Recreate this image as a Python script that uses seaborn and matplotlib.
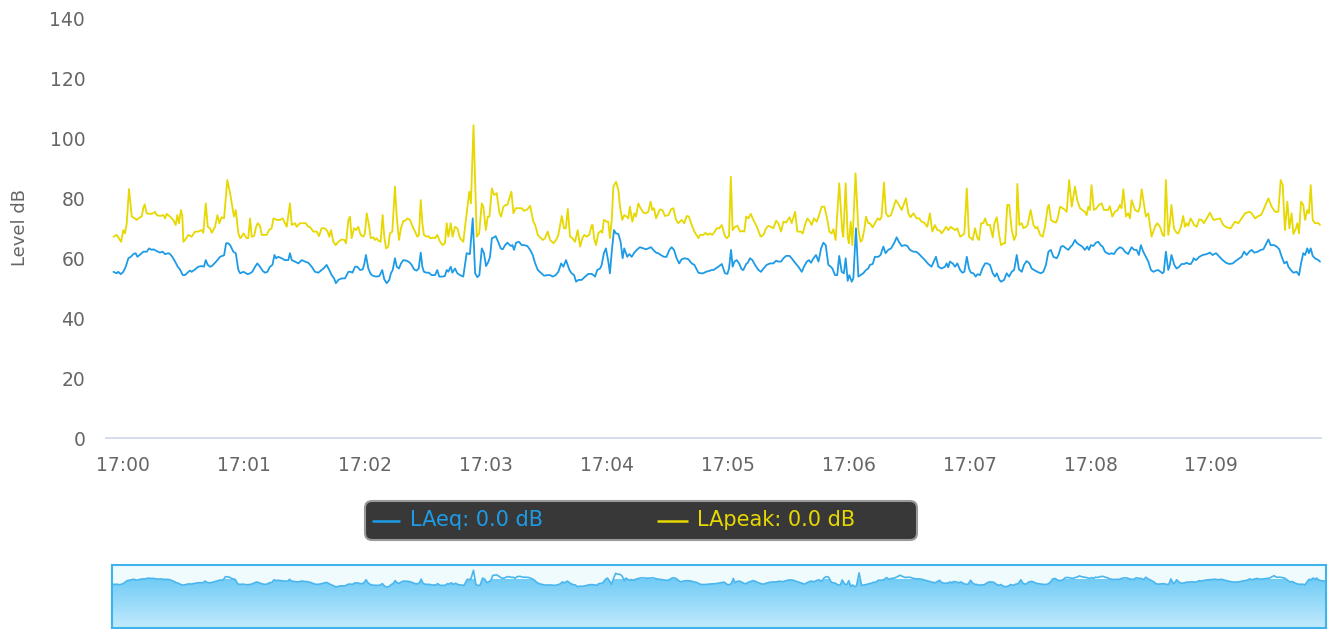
import numpy as np
import pandas as pd
import matplotlib
matplotlib.use("Agg")
import matplotlib.pyplot as plt
import seaborn as sns
from matplotlib.patches import FancyBboxPatch
from matplotlib.colors import LinearSegmentedColormap

# ---------------------------------------------------------------------------
# Sound level log, seconds relative to 17:00:00
# ---------------------------------------------------------------------------
lapeak_sec = [
    -4.9, -3.3, -1.1, 0.0, 0.8, 1.7, 2.8, 4.2, 5.8, 6.6, 8.3, 9.1, 9.9, 10.6, 11.6, 13.2, 14.9, 15.7, 16.6, 18.2,
    19.9, 20.7, 21.5, 23.2, 24.0, 24.8, 26.0, 26.8, 27.6, 28.6, 29.3, 29.8, 30.6, 32.3, 33.9, 35.6, 37.2, 38.9, 39.7,
    40.9, 41.9, 43.0, 43.9, 45.5, 46.7, 47.7, 48.8, 50.0, 51.6, 53.0,
    54.9, 55.8, 57.1, 58.0, 58.7, 59.6, 61.2, 62.0, 62.9, 63.7, 64.9, 65.9, 66.7, 67.8, 68.7, 70.3, 71.2, 72.3, 73.6,
    74.5, 76.1, 77.8, 79.1, 81.1, 82.7, 83.6, 85.2, 86.0, 87.7, 89.3, 90.5, 91.8, 92.6, 94.3, 96.0, 97.1, 98.4, 100.1,
    101.4, 102.2, 103.1, 104.2, 105.4, 106.7, 108.4, 109.7, 110.5, 111.7, 112.5,
    113.3, 114.5, 115.5, 116.6, 117.8, 119.1, 119.9, 120.8, 121.9, 122.8, 124.1, 124.9, 125.7, 126.6, 127.7, 128.7,
    129.5, 130.4, 131.5, 132.3, 133.5, 134.8, 135.7, 136.8, 137.8, 139.0, 139.8, 141.0, 142.3, 143.6, 144.8, 145.9,
    146.7, 147.6, 148.4, 149.2, 150.5, 151.4, 152.2, 153.9, 154.7, 155.8, 157.2, 158.5, 159.6, 160.5, 161.3, 162.5,
    163.4, 164.6, 165.8, 167.1, 168.7, 170.4, 171.7, 172.5,
    173.8, 175.4, 176.6, 177.9, 178.7, 179.9, 180.9, 181.7, 182.9, 184.0, 185.3, 186.7, 187.5, 188.6, 189.8, 190.6,
    192.6, 193.6, 194.8, 196.4, 197.7, 198.9, 200.5, 201.9, 203.5, 204.4, 205.7, 206.8, 208.2, 209.3, 210.6, 211.8,
    213.5, 214.8, 215.9, 217.6, 218.7, 219.6, 220.6, 221.7, 222.9, 224.2, 225.5, 226.7, 227.8, 228.8, 230.0, 231.2,
    232.5,
    232.9, 233.8, 234.6, 235.7, 237.1, 237.7, 238.5, 239.9, 240.7, 241.5, 242.4, 243.2, 244.5, 245.7, 246.5, 247.6,
    248.6, 249.8, 250.6, 251.4, 252.6, 253.6, 254.4, 255.6, 256.7, 258.1, 259.4, 260.5, 261.7, 262.5, 263.4, 264.4,
    266.3, 267.5, 268.8, 270.5, 271.8, 273.0, 274.3, 275.4, 277.1, 278.4, 279.6, 280.7, 282.1, 283.4, 285.4, 286.2,
    287.8, 289.0, 290.0, 291.1, 292.3,
    293.5, 294.5, 295.7, 297.0, 298.6, 299.5, 300.6, 301.5, 302.4, 303.6, 304.8, 306.1, 307.2, 308.2, 309.1, 310.2,
    311.4, 312.7, 314.4, 316.3, 317.7, 319.0, 320.1, 321.5, 322.6, 324.0, 325.1, 326.4, 327.6, 328.9, 330.6, 331.7,
    333.4, 334.5, 336.2, 337.2, 338.3, 339.5, 340.8, 341.6, 342.8, 344.1, 345.0, 346.6, 347.9, 349.1, 350.4,
    351.5, 352.4, 353.5, 355.3, 356.8, 357.3, 358.5, 359.5, 360.1, 361.0, 361.8, 363.4, 364.8, 365.9, 366.7, 367.7,
    368.6, 369.7, 370.5, 371.9, 373.4, 374.4, 375.5, 376.3, 377.5, 378.5, 379.6, 381.0, 382.1, 383.4, 384.9, 386.3,
    388.4, 389.6, 390.7, 392.1, 393.7, 395.0, 396.2, 397.5, 399.0, 400.3, 401.5, 402.8, 404.0, 405.3, 406.1, 407.3,
    408.3, 409.4, 410.6,
    411.6, 412.8, 413.9, 415.3, 416.6, 417.4, 418.6, 419.7, 420.7, 421.5, 422.7, 423.9, 424.7, 425.7, 426.8, 427.7,
    428.8, 430.1, 431.5, 432.3, 433.5, 434.8, 435.6, 436.8, 437.6, 438.7, 439.7, 440.9, 442.1, 443.1, 443.7, 444.7,
    445.9, 446.7, 448.0, 448.8, 450.3, 451.7, 452.8, 453.6, 455.0, 456.3, 457.4, 458.8, 459.4, 460.4, 461.6, 462.9,
    463.7, 464.9, 466.2, 467.4, 468.2, 469.4, 470.7,
    472.3, 473.4, 474.8, 475.9, 477.2, 478.1, 478.9, 479.7, 480.5, 481.7, 483.0, 484.2, 485.5, 486.7, 488.0, 488.8,
    489.6, 490.8, 492.1, 493.5, 494.6, 495.4, 496.3, 497.6, 498.7, 499.6, 500.4, 502.1, 503.7, 504.5, 505.4, 506.5,
    507.5, 508.7, 509.5, 510.3, 512.0, 513.1, 514.5, 515.8, 516.6, 517.4, 518.6, 519.4, 520.2, 521.4, 522.7, 523.6,
    524.9, 526.0, 526.9, 527.7, 528.5, 529.7, 531.0,
    531.5, 532.7, 534.0, 535.2, 536.3, 537.7, 539.3, 541.0, 542.6, 544.3, 545.9, 547.6, 549.6, 551.7, 553.4, 555.0,
    556.7, 558.8, 560.0, 561.7, 563.3, 564.6, 565.8, 568.3, 569.9, 571.6, 573.2, 574.4, 575.4, 576.5, 577.7, 578.7,
    579.8, 580.7, 582.0, 582.7, 583.5, 584.5, 585.6, 586.5, 587.6, 588.4, 589.3, 590.3, 591.4, 593.1, 593.9,
]
lapeak_db = [
    67.1, 67.7, 65.4, 69.3, 68.2, 71.6, 83.0, 73.8, 73.2, 72.7, 73.6, 73.8, 76.6, 77.9, 74.9, 74.7, 74.9, 75.4, 74.3, 74.0,
    74.3, 73.2, 74.7, 73.8, 73.2, 72.7, 71.0, 74.3, 71.6, 76.0, 73.8, 65.4, 66.0, 67.7, 67.1, 68.8, 68.8, 69.3, 68.4,
    78.2, 70.4, 69.9, 68.4, 70.4, 74.3, 71.6, 73.6, 73.2, 86.0, 81.6,
    73.8, 76.0, 68.2, 66.6, 67.1, 68.2, 66.6, 66.6, 73.2, 67.1, 67.3, 70.4, 71.6, 70.7, 67.7, 67.7, 67.7, 69.3, 69.9,
    73.2, 72.7, 72.7, 73.2, 70.4, 78.2, 71.0, 71.6, 70.4, 71.6, 71.6, 71.6, 70.4, 70.4, 68.8, 68.8, 67.3, 69.9, 69.9,
    68.8, 67.1, 69.3, 65.4, 64.3, 65.4, 66.2, 66.0, 64.9, 72.7, 73.8,
    66.6, 69.9, 69.3, 70.4, 67.7, 67.1, 68.2, 74.9, 71.0, 66.6, 66.9, 66.0, 66.6, 65.8, 65.4, 74.3,
    67.1, 63.2, 63.8, 68.2, 68.8, 83.8, 73.8, 66.0, 69.9, 72.4, 72.4, 73.2, 72.7, 70.4, 68.8, 67.1,
    67.7, 79.3, 71.6, 67.7, 67.1, 67.3, 66.6, 66.8, 66.6, 67.7, 65.4, 64.3, 64.9, 71.6, 67.1, 71.6,
    67.1, 70.4, 69.9, 66.6, 65.4, 74.9, 82.1, 78.2,
    104.3, 67.1, 68.2, 78.2, 77.1, 69.3, 73.8, 73.8, 83.2, 81.0, 81.6, 74.9, 73.8, 77.1, 77.7, 77.7,
    82.1, 74.9, 76.6, 76.6, 76.6, 75.7, 76.2, 77.4, 72.1, 71.0, 67.7, 66.9, 66.0, 66.6, 68.8, 66.0,
    64.9, 66.0, 67.7, 74.0, 69.9, 69.9, 76.4, 67.1, 66.6, 65.4, 69.3, 63.8, 66.6, 67.7, 67.1, 67.7,
    71.0,
    71.0, 66.0, 64.3, 68.2, 69.1, 68.4, 72.7, 72.1, 72.1, 66.6, 72.7, 83.8, 85.4, 82.7, 77.1, 72.7,
    74.3, 73.8, 73.2, 77.1, 72.1, 74.9, 73.8, 78.2, 76.6, 75.1, 74.9, 75.4, 78.8, 76.0, 76.6, 73.2,
    76.2, 76.0, 74.0, 74.3, 76.2, 76.6, 72.7, 71.6, 72.7, 71.6, 74.0, 73.8, 71.0, 68.8, 66.6, 67.7,
    67.7, 68.4, 67.7, 68.2, 67.7,
    68.8, 69.9, 69.9, 71.0, 67.3, 66.6, 67.3, 87.1, 69.3, 70.4, 70.7, 68.8, 69.0, 68.8, 73.8, 73.2,
    74.7, 72.7, 70.4, 67.1, 67.7, 69.9, 70.7, 70.4, 69.9, 72.4, 71.6, 68.8, 72.1, 71.8, 73.6, 71.6,
    75.4, 68.8, 68.8, 68.2, 71.0, 73.2, 72.1, 71.0, 73.2, 72.1, 73.6, 77.1, 77.1, 73.8, 68.8,
    68.2, 69.6, 66.0, 84.9, 68.8, 67.1, 84.9, 67.1, 64.9, 72.1, 64.3, 88.2, 69.3, 65.4, 66.0, 69.3,
    73.8, 71.6, 71.6, 70.2, 72.1, 73.2, 72.7, 73.8, 85.1, 74.9, 73.8, 74.3, 76.6, 79.3, 77.7, 76.0,
    79.9, 74.9, 73.6, 74.9, 73.2, 73.2, 72.1, 71.8, 70.4, 74.9, 68.8, 71.0, 69.3, 69.1, 68.2, 69.3,
    70.4, 69.3, 70.4,
    69.9, 69.3, 69.9, 67.1, 67.7, 68.2, 83.2, 67.1, 66.6, 66.0, 69.9, 66.6, 66.0, 71.6, 71.6, 73.2,
    71.0, 71.0, 66.9, 71.6, 73.6, 67.1, 64.3, 64.9, 64.9, 77.7, 77.7, 69.3, 66.0, 67.7, 84.7, 71.0,
    71.6, 69.9, 70.4, 71.0, 76.0, 71.0, 69.9, 70.4, 67.7, 67.1, 70.4, 77.1, 77.7, 72.7, 72.1, 71.8,
    73.2, 77.1, 76.6, 76.0, 75.4, 86.0, 77.1,
    83.8, 79.3, 76.6, 76.0, 75.4, 74.3, 77.1, 76.0, 84.3, 76.0, 76.6, 77.7, 78.2, 76.0, 76.0, 76.0,
    77.3, 73.8, 75.4, 76.0, 77.7, 76.6, 82.9, 73.8, 74.9, 73.2, 79.3, 76.0, 75.4, 77.1, 82.9, 78.2,
    73.8, 74.9, 71.0, 67.1, 70.4, 71.6, 70.4, 67.7, 67.3, 86.0, 67.7, 71.6, 77.7, 69.9, 68.4, 68.2,
    70.4, 74.0, 70.4, 71.6, 70.7, 73.2, 71.6,
    71.0, 70.4, 72.9, 72.7, 71.6, 73.2, 75.1, 72.7, 72.9, 73.2, 71.0, 70.2, 69.9, 72.1, 71.6, 73.2,
    74.9, 75.4, 74.9, 73.2, 74.0, 74.3, 76.0, 79.9, 77.1, 75.4, 75.4, 86.0, 84.3, 69.3, 78.8, 69.9,
    74.9, 68.0, 69.9, 71.6, 68.2, 78.8, 77.7, 72.7, 76.0, 74.9, 84.3, 72.7, 71.6, 71.6, 71.0,
]

laeq_sec = [
    -4.9, -3.3, -2.5, -1.3, 0.0, 1.2, 2.5, 3.7, 5.0, 6.1, 7.0, 8.6, 9.9, 11.6, 12.8, 14.1, 14.9, 16.6, 18.2, 19.5,
    20.7, 22.4, 23.2, 24.3, 25.7, 27.0, 28.1, 29.5, 30.6, 32.3, 33.1, 33.9, 35.6, 37.2, 38.9, 40.0, 40.9, 41.9, 43.0,
    43.9, 45.5, 46.7, 48.0, 49.1, 50.0, 51.0, 52.1, 53.0,
    54.6, 55.8, 57.1, 58.0, 59.6, 60.4, 61.7, 62.9, 64.0, 65.4, 66.5, 67.8, 69.2, 70.3, 71.5, 72.8, 74.0, 75.0, 75.8,
    76.9, 78.6, 80.2, 81.9, 82.7, 83.6, 85.2, 86.9, 88.5, 90.2, 91.8, 93.5, 95.1, 96.8, 99.3, 100.9, 102.2, 103.4,
    104.6, 105.5, 106.7, 108.4, 110.0, 111.7, 112.8,
    113.7, 115.0, 116.1, 117.5, 118.8, 119.6, 120.4, 121.6, 122.8, 124.1, 125.7, 127.1, 128.5, 129.5, 130.7, 132.0,
    132.8, 133.7, 134.8, 135.7, 136.8, 137.8, 139.0, 140.6, 141.9, 143.1, 144.3, 145.6, 146.6, 147.6, 148.4, 149.2,
    150.5, 151.7, 153.0, 154.7, 155.8, 156.8, 158.5, 159.6, 160.5, 161.3, 162.5, 163.3, 164.6, 165.8, 167.1, 168.7,
    170.4, 172.0,
    173.4, 174.6, 175.7, 176.7, 177.9, 179.0, 180.0, 181.2, 182.0, 182.9, 184.0, 184.8, 186.2, 187.3, 188.3, 189.5,
    190.6, 192.3, 193.1, 193.9, 194.9, 196.4, 197.7, 198.9, 200.5, 201.9, 203.2, 204.4, 205.7, 207.2, 208.8, 210.5,
    211.8, 213.1, 214.6, 215.9, 217.3, 218.4, 219.7, 221.4, 222.5, 223.7, 224.7, 225.9, 227.5, 229.2, 230.8, 232.5,
    233.3, 234.1, 235.2, 236.6, 237.4, 238.5, 239.5, 240.7, 241.5, 242.4, 243.5, 244.5, 245.7, 246.8, 247.8, 248.6,
    250.1, 251.1, 252.3, 253.6, 254.8, 256.4, 258.1, 259.4, 260.5, 261.9, 263.0, 264.4, 265.5, 266.7, 268.3, 269.6,
    271.0, 272.1, 273.3, 274.6, 275.9, 277.1, 278.7, 280.4, 282.1, 283.4, 285.4, 286.7, 287.8, 289.2, 290.8, 292.0,
    292.9, 294.0, 295.3, 297.0, 298.6, 299.8, 300.6, 301.6, 302.4, 303.3, 304.4, 305.6, 306.9, 307.7, 309.1, 309.9,
    311.0, 312.2, 313.5, 315.2, 316.5, 317.7, 319.3, 321.0, 322.6, 324.0, 325.1, 326.4, 327.6, 328.9, 330.6, 331.7,
    333.4, 335.0, 336.7, 337.8, 339.2, 340.3, 341.3, 342.5, 343.8, 345.0, 346.3, 347.4, 348.6, 349.9, 351.1,
    351.9, 353.2, 354.3, 355.3, 356.5, 357.6, 358.5, 359.5, 360.3, 361.5, 362.3, 363.6, 364.8, 365.9, 367.2, 368.6,
    369.7, 370.5, 371.9, 373.0, 374.7, 375.8, 377.2, 378.3, 379.6, 381.0, 382.5, 383.8, 384.9, 386.3, 387.9, 389.1,
    390.4, 392.1, 393.4, 394.5, 396.2, 397.8, 399.5, 401.1, 403.3, 404.5, 406.1, 407.8, 408.6, 409.4, 410.2,
    411.6, 412.8, 413.9, 415.3, 416.4, 417.4, 418.6, 419.7, 420.7, 421.9, 423.0, 423.9, 425.2, 426.3, 427.7, 428.8,
    430.1, 431.5, 432.6, 433.5, 434.8, 435.6, 437.1, 438.4, 439.6, 440.9, 442.1, 443.4, 444.5, 445.9, 447.0, 448.3,
    449.7, 450.8, 452.5, 453.6, 455.3, 456.6, 457.9, 459.1, 460.3, 461.6, 463.2, 464.1, 465.4, 466.5, 467.9, 469.0,
    470.2,
    471.0, 472.3, 473.4, 474.8, 475.9, 477.2, 478.4, 479.2, 480.2, 481.4, 482.7, 483.9, 485.0, 486.0, 487.2, 488.3,
    489.3, 490.5, 491.6, 493.0, 494.6, 495.9, 497.1, 498.7, 500.4, 501.7, 502.9, 504.0, 505.0, 506.2, 507.5, 508.7,
    510.0, 511.2, 512.5, 513.6, 514.8, 515.8, 516.4, 517.4, 518.6, 519.4, 520.2, 521.6, 522.7, 524.1, 525.2, 526.5,
    527.7, 528.9, 529.8, 531.0,
    531.1, 532.4, 534.0, 535.7, 537.7, 539.3, 540.6, 542.3, 544.0, 545.6, 547.3, 548.9, 550.6, 552.2, 553.9, 555.0,
    556.2, 557.5, 558.8, 560.0, 561.3, 563.0, 564.5, 565.8, 568.3, 569.4, 571.1, 572.4, 573.7, 574.9, 576.2, 577.4,
    578.2, 579.4, 580.7, 582.3, 583.5, 584.5, 585.6, 586.5, 587.6, 588.4, 589.3, 590.3, 591.4, 593.1, 593.9,
]
laeq_db = [
    55.4, 54.9, 55.4, 54.6, 55.4, 57.1, 59.9, 60.4, 61.3, 61.6, 60.4, 61.3, 62.1, 62.1, 63.2, 62.7, 62.9, 62.3, 61.8, 62.1,
    61.3, 61.6, 61.3, 60.4, 58.8, 57.1, 56.2, 54.3, 54.3, 55.4, 55.8, 55.4, 56.2, 57.1, 57.3, 57.1, 59.3, 57.7, 57.1,
    57.3, 58.4, 59.3, 60.4, 60.7, 60.9, 64.9, 64.9, 64.3,
    62.1, 61.6, 56.0, 54.9, 55.4, 55.1, 54.6, 54.9, 55.4, 57.1, 58.2, 57.1, 55.7, 55.1, 55.4, 57.1, 57.7, 61.0, 59.9,
    60.4, 59.9, 59.3, 59.3, 61.6, 59.3, 58.8, 58.2, 59.3, 58.8, 58.4, 57.1, 55.4, 55.1, 56.5, 57.7, 56.0, 54.3,
    53.2, 51.6, 52.7, 53.2, 53.2, 55.4, 55.4,
    55.1, 57.1, 57.1, 56.0, 56.2, 58.0, 61.0, 56.5, 54.6, 54.0, 53.8, 54.0, 56.0, 52.9, 51.6, 52.7,
    54.9, 56.0, 59.9, 57.1, 56.5, 58.2, 59.3, 59.1, 58.6, 57.7, 56.2, 55.8, 56.5, 61.8, 57.1, 55.4,
    55.1, 55.1, 54.3, 54.3, 56.0, 53.8, 53.8, 54.0, 56.0, 55.4, 57.1, 55.1, 56.5, 54.9, 54.3, 53.8,
    61.6, 61.3,
    73.2, 54.9, 53.6, 54.3, 63.2, 61.6, 57.3, 58.8, 60.4, 66.6, 66.9, 67.3, 65.1, 63.2, 62.9, 64.3,
    65.1, 64.0, 64.3, 62.7, 65.1, 65.4, 64.3, 64.3, 64.0, 62.7, 61.0, 58.2, 56.0, 55.1, 54.1, 54.3,
    54.3, 53.8, 54.3, 55.4, 58.2, 57.1, 59.3, 56.0, 54.9, 54.3, 52.1, 52.7, 52.7, 53.8, 54.7, 54.7,
    54.3, 53.8, 56.0, 56.5, 57.7, 61.6, 63.2, 58.8, 54.9, 62.1, 69.3, 68.2, 68.0, 65.4, 59.9, 63.2,
    60.4, 61.3, 60.4, 61.8, 62.7, 63.6, 63.2, 62.9, 63.2, 63.6, 62.7, 61.8, 61.6, 61.0, 60.4, 60.4,
    62.7, 63.6, 62.7, 59.9, 58.2, 59.6, 59.9, 59.6, 58.2, 57.7, 55.1, 54.9, 54.9, 55.4, 55.7, 56.0,
    56.0, 56.5, 57.1, 58.0, 54.9, 54.7, 56.5, 62.7, 57.1, 58.8, 59.3, 58.2, 56.2, 56.0, 58.0, 58.4,
    59.9, 59.3, 57.7, 56.0, 55.4, 56.5, 57.7, 58.2, 58.2, 59.1, 58.8, 58.8, 59.9, 60.7, 60.7, 59.9,
    58.4, 57.1, 55.4, 57.1, 58.8, 59.3, 58.4, 59.9, 61.0, 58.8, 63.2, 65.1, 64.3, 57.7, 57.1,
    56.5, 54.3, 54.3, 60.7, 55.4, 54.9, 59.9, 52.4, 54.3, 52.1, 53.2, 69.9, 53.8, 54.3, 54.9, 56.0,
    56.5, 57.7, 58.0, 60.4, 60.4, 61.0, 63.8, 61.6, 62.7, 63.2, 64.9, 66.9, 65.4, 64.0, 64.3, 64.0,
    62.7, 62.1, 62.1, 61.6, 60.4, 59.3, 58.0, 57.1, 60.4, 57.1, 56.5, 57.1, 58.2, 56.9, 58.8,
    58.2, 57.1, 58.2, 56.0, 55.1, 55.4, 60.4, 56.5, 55.1, 54.9, 53.8, 54.6, 54.3, 56.5, 58.2, 58.2,
    57.7, 54.9, 53.8, 54.9, 52.7, 52.1, 52.7, 54.9, 53.8, 55.4, 56.0, 61.0, 56.2, 55.4, 57.7, 59.0,
    58.2, 56.5, 55.8, 55.4, 54.9, 55.4, 57.7, 62.1, 62.7, 60.4, 59.9, 61.0, 63.8, 64.0, 63.2, 62.7,
    63.8,
    64.3, 66.0, 64.9, 64.3, 63.8, 62.7, 63.8, 62.7, 64.3, 64.0, 65.1, 65.4, 64.3, 63.8, 62.1, 61.6,
    61.3, 61.6, 61.3, 62.7, 63.6, 63.2, 62.1, 61.3, 63.6, 62.7, 62.7, 61.0, 64.3, 62.1, 60.4, 58.8,
    56.0, 55.4, 55.8, 56.0, 55.4, 54.9, 55.4, 62.1, 56.0, 57.7, 61.0, 57.7, 56.5, 57.1, 58.0, 58.0,
    58.4, 58.0, 58.0, 59.3,
    59.9, 59.3, 60.4, 61.0, 61.3, 61.8, 61.0, 61.6, 60.4, 59.3, 58.4, 58.0, 58.2, 59.1, 59.9, 60.4,
    62.1, 61.0, 62.1, 62.7, 61.8, 62.1, 62.7, 62.9, 66.2, 64.3, 64.3, 63.8, 62.9, 60.4, 58.2, 58.8,
    57.1, 56.0, 55.1, 55.4, 54.3, 58.2, 61.6, 61.0, 63.2, 61.6, 63.2, 60.7, 59.9, 59.3, 58.8,
]

minute_ticks = [0, 60, 120, 180, 240, 300, 360, 420, 480, 540]
minute_labels = ["17:00", "17:01", "17:02", "17:03", "17:04",
                 "17:05", "17:06", "17:07", "17:08", "17:09"]
level_ticks = [0, 20, 40, 60, 80, 100, 120, 140]
series_names = ["LAeq", "LApeak"]

assert len(lapeak_sec) == len(lapeak_db)
assert len(laeq_sec) == len(laeq_db)

BLUE = "#1d9be6"
YELLOW = "#e6d800"
AXIS = "#ccd6eb"
LABEL = "#666666"

df = pd.concat([
    pd.DataFrame({"sec": lapeak_sec, "db": lapeak_db, "series": series_names[1]}),
    pd.DataFrame({"sec": laeq_sec, "db": laeq_db, "series": series_names[0]}),
], ignore_index=True)

sns.set_style("white")
plt.rcParams["font.family"] = ["DejaVu Sans"]

W, H = 1331, 629
fig = plt.figure(figsize=(W / 100, H / 100), dpi=100)


def px_box(left, top, right, bottom):
    return [left / W, 1 - bottom / H, (right - left) / W, (bottom - top) / H]


# ---------------------------------------------------------------- main chart
ax = fig.add_axes(px_box(106, 18, 1321, 438))
sns.lineplot(data=df, x="sec", y="db", hue="series",
             hue_order=[series_names[1], series_names[0]],
             palette={series_names[0]: BLUE, series_names[1]: YELLOW},
             estimator=None, sort=False, linewidth=1.3, legend=False, ax=ax)

ax.set_xlim(-8.6, 594.4)
ax.set_ylim(0, 140)
ax.set_xticks(minute_ticks)
ax.set_xticklabels(minute_labels)
ax.set_yticks(level_ticks)
ax.set_yticklabels([str(v) for v in level_ticks])
ax.set_xlabel("")
ax.set_ylabel("Level dB", fontsize=13, color=LABEL)
ax.yaxis.set_label_coords(-0.063, 0.5)

for side in ("top", "right", "left"):
    ax.spines[side].set_visible(False)
ax.spines["bottom"].set_color(AXIS)
ax.spines["bottom"].set_linewidth(1.2)
ax.tick_params(axis="x", direction="out", length=11, width=1.2, color=AXIS,
               labelcolor=LABEL, labelsize=13.5, pad=2)
ax.tick_params(axis="y", direction="in", length=5, width=1.2, color=AXIS,
               labelcolor=LABEL, labelsize=13.5, pad=15)
ax.grid(False)

# ---------------------------------------------------------------- navigator
nav = fig.add_axes(px_box(112, 565, 1326, 628))
nav.set_facecolor("#f0fbfe")
nav_lo, nav_hi = -1, 80
fill = nav.fill_between(laeq_sec, laeq_db, nav_lo, facecolor="none", edgecolor="none")
grad = np.linspace(0, 1, 256).reshape(-1, 1)
cmap = LinearSegmentedColormap.from_list("nav", ["#72ccf6", "#c2ebfd"])
img = nav.imshow(grad, cmap=cmap, aspect="auto", origin="upper",
                 extent=[laeq_sec[0], laeq_sec[-1], nav_lo, 62], zorder=1)
img.set_clip_path(fill.get_paths()[0], transform=nav.transData)
sns.lineplot(x=laeq_sec, y=laeq_db, color="#4bb6ee", linewidth=1.2,
             estimator=None, sort=False, ax=nav, zorder=2)
nav.set_xlim(laeq_sec[0], laeq_sec[-1])
nav.set_ylim(nav_lo, nav_hi)
nav.set_xticks([])
nav.set_yticks([])
nav.set_xlabel("")
nav.set_ylabel("")
for sp in nav.spines.values():
    sp.set_visible(True)
    sp.set_color("#3fb3ec")
    sp.set_linewidth(1.5)

# ---------------------------------------------------------------- legend bar
lg = fig.add_axes([0, 0, 1, 1])
lg.set_xlim(0, W)
lg.set_ylim(H, 0)
lg.axis("off")
lg.add_patch(FancyBboxPatch((365, 501), 552, 39,
                            boxstyle="round,pad=0,rounding_size=7",
                            facecolor="#383838", edgecolor="#9a9a9a", linewidth=1.5))
lg.plot([372, 400], [520.5, 520.5], color=BLUE, linewidth=1.8, solid_capstyle="butt")
lg.text(410, 520.5, f"{series_names[0]}: 0.0 dB", color=BLUE, fontsize=15,
        va="center", ha="left")
lg.plot([657, 688], [520.5, 520.5], color=YELLOW, linewidth=1.8, solid_capstyle="butt")
lg.text(697, 520.5, f"{series_names[1]}: 0.0 dB", color=YELLOW, fontsize=15,
        va="center", ha="left")

fig.savefig("out.png", dpi=100)
